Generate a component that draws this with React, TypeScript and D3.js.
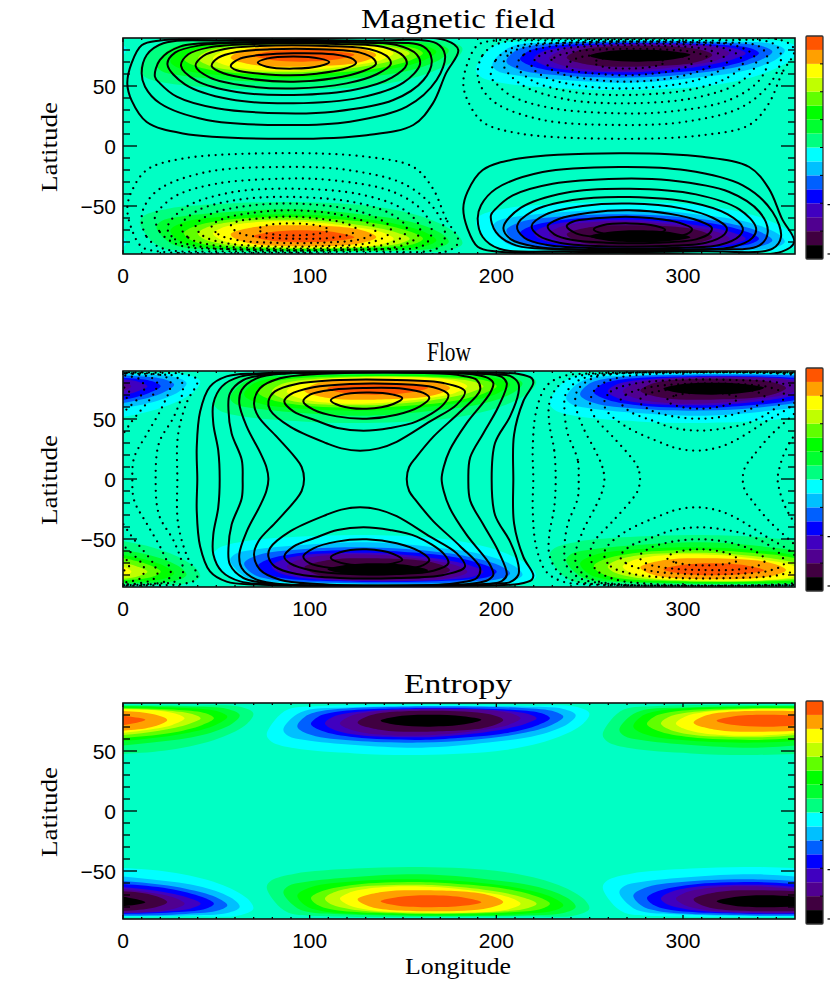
import React from "react";
import * as d3 from "d3";

type Pt = [number, number];

const WIDTH = 830;
const HEIGHT = 997;

const lonMajor = [0, 100, 200, 300];
const lonMinor = [10, 20, 30, 40, 50, 60, 70, 80, 90, 110, 120, 130, 140, 150, 160, 170, 180, 190, 210, 220, 230, 240, 250, 260, 270, 280, 290, 310, 320, 330, 340, 350];
const latMajor = [-50, 0, 50];
const latMinor = [-80, -70, -60, -40, -30, -20, -10, 10, 20, 30, 40, 60, 70, 80];

// colour bar, bottom to top
const barColours = ["#000000", "#400040", "#500090", "#4000c0", "#0000ff", "#0060ff", "#00c0ff", "#00ffff", "#00ff80", "#00ff30", "#00ff00", "#60ff00", "#c0ff00", "#ffff00", "#ffa000", "#ff5500"];
const barTicks = [2, 4, 6, 8, 10, 12, 14];
const barLabelStubs = [0.36, 3.9];
const backgroundColour = "#00ffc4";

// outer to inner
const coldColours = ["#00ffff", "#00c0ff", "#0060ff", "#0000ff", "#4000c0", "#500090", "#400040", "#000000"];
const warmColours = ["#00ff80", "#00ff30", "#00ff00", "#60ff00", "#c0ff00", "#ffff00", "#ffa000", "#ff5500"];

// filled lobe outlines: [longitude relative to lobe centre, latitude], outer to inner
const lobeRings: Pt[][] = [
  [[-88, 63.3], [-83.6, 75.8], [-76.4, 84.7], [-58.6, 87.5], [-5, 88.3], [48.6, 87.8], [77, 87], [84.8, 81.4], [81.6, 73], [66.4, 60.6], [39.6, 50.8], [-5, 46.7], [-40.7, 48], [-72.9, 52.2], [-85.4, 57.8]],
  [[-79.1, 67.5], [-74.7, 77.2], [-67.5, 83.6], [-40.7, 86.4], [-1.4, 87.5], [48.6, 87], [70.9, 85], [77.5, 80], [73.6, 73], [57.5, 63.3], [30.7, 57], [-5, 52.8], [-40.7, 55], [-67.5, 59.2], [-76.4, 62.5]],
  [[-71.6, 70.3], [-67.5, 78.6], [-58.6, 83.3], [-5, 87], [48.6, 85.8], [66.4, 82.8], [70.9, 78.6], [64.6, 71.7], [48.6, 64.7], [21.8, 59.2], [-5, 57], [-40.7, 58.6], [-64, 63.3]],
  [[-64.3, 72.5], [-60.4, 78.6], [-51.4, 82.5], [-5, 85.8], [45, 84.2], [59.3, 81.4], [63.7, 77.2], [57.5, 71.7], [39.6, 64.7], [12.8, 60.6], [-8.6, 59.2], [-40.7, 61.4], [-58.6, 66.9]],
  [[-56.8, 73], [-53.2, 78], [-42.5, 82], [-5, 85.3], [39.6, 83.6], [52.1, 80.8], [56.6, 77.2], [50.3, 72.5], [34.3, 66.9], [9.3, 62.5], [-8.6, 61.4], [-39, 63.3], [-52.3, 68]],
  [[-48.8, 73], [-44, 78.6], [-33, 82.5], [-1.4, 84.7], [34.3, 83.6], [45, 80.3], [48, 77.2], [41.4, 71.7], [25.3, 67], [2, 63.3], [-17.5, 62.8], [-37, 65.5], [-45, 68.9]],
  [[-39.3, 73.6], [-32, 80], [-1.4, 83.6], [30.7, 80.8], [38.7, 75.8], [30, 69.7], [-2, 66.1], [-26.4, 67.5]],
  [[-27, 75.3], [-17.5, 79], [0, 80.2], [17, 79], [27, 76], [18, 72.2], [-0.5, 70.3], [-17.5, 71.7]],
];

// lobe centres, [longitude, north = 1 / south = -1, cold = 0 / warm = 1]
const magneticLobes = [[277, 1, 0], [97, 1, 1], [97, -1, 1], [277, -1, 0]];
const flowLobes = [[316.5, 1, 0], [136.5, 1, 1], [316.5, -1, 1], [136.5, -1, 0]];
const entropyLobes = [[165, 1, 0], [345, 1, 1], [165, -1, 1], [345, -1, 0]];

// magnetic field contours of the north-west cell, outer to inner
const magneticRings: Pt[][] = [
  [[179.6, 80], [173, 60.5], [166, 35.5], [155.5, 17.5], [130.5, 9], [86, 6], [32, 10.5], [12.7, 20], [4.6, 38], [2.3, 52], [4.6, 69], [10, 84], [20, 88], [86, 89], [173, 88]],
  [[10, 60.6], [12.7, 75.8], [21.6, 85.6], [59, 87.8], [130.5, 87.8], [168, 85.6], [172.5, 75.8], [168, 55], [152, 32.8], [121.6, 20.3], [85.9, 17.5], [44.8, 21.7], [19.8, 35.6], [11.8, 49.4]],
  [[17.1, 57.8], [19.8, 71.7], [30.5, 82.8], [59, 86], [130.5, 86], [161, 82.8], [165.4, 71.7], [161, 55], [144.8, 38.3], [112.7, 28.6], [85.9, 27.2], [50.2, 31.4], [28.8, 41.1], [19.8, 52.2]],
  [[23.8, 68.1], [27.9, 77.8], [41.3, 83.9], [69.8, 86.7], [119.8, 86.7], [146.6, 84.2], [157.3, 76.4], [159.1, 68.1], [150.2, 52.8], [127, 40.3], [91.3, 35.6], [57.3, 38.9], [33.2, 51.4]],
  [[31.1, 66.7], [35, 76.4], [46.6, 82.3], [69.8, 85], [114.5, 85], [139.5, 82.5], [150.2, 75], [152, 68.1], [144, 57], [125.2, 47.3], [91.3, 42.5], [60.9, 45], [39.5, 54.2]],
  [[38.9, 66.7], [43, 75], [53.8, 80.6], [73.4, 83.4], [109.1, 83.4], [132.3, 80.6], [142.2, 73.6], [143.4, 68.1], [135.9, 59.8], [119.8, 52.2], [91.3, 48], [66.3, 50], [46.6, 57]],
  [[47.5, 66.7], [51.1, 73.6], [60.9, 78.4], [78.8, 80.6], [105.5, 80.6], [127, 77.8], [134.5, 72.3], [135.4, 68.1], [128.8, 62.5], [112.7, 56.4], [91.3, 53.6], [69.8, 55.6], [53.8, 60.6]],
  [[57.7, 66.7], [62.7, 72.8], [75.2, 76.1], [91.3, 77.3], [112.7, 76.4], [123.4, 72.3], [124.8, 68.9], [118, 63.9], [103.8, 60.3], [89.5, 58.9], [73.4, 60.3], [60.9, 63.1]],
  [[72.2, 69.5], [77, 72.8], [91.3, 74.5], [105.5, 72.8], [110.5, 70], [105.5, 66.7], [91.3, 64.5], [77, 66.1]],
];

// flow contours that wrap both cells: north half, west equator round to east equator
const flowWaistRings: Pt[][] = [
  [[39.8, 0], [39.5, 26], [41.3, 56], [46.6, 77], [55.5, 85.5], [71.6, 88], [130, 89], [200, 88.5], [212, 87.5], [219, 84], [219.8, 80], [214.5, 65], [209.5, 37], [209.1, 0]],
  [[51.8, 0], [51, 24], [48.4, 46], [48.4, 63], [52.9, 77], [62.7, 85.3], [95, 88.5], [170, 88.5], [200, 87], [207.3, 85.9], [211.8, 79.8], [211.8, 71.4], [207.3, 52], [199.3, 30], [197.5, 0]],
  [[64.1, 0], [63.6, 16], [58.2, 38], [56.5, 57.5], [57.3, 71.4], [64.5, 82.5], [80.6, 87.5], [120, 89], [180, 88.5], [196.6, 87.5], [203, 85], [205.6, 79.8], [201, 60], [193, 38], [186, 18], [185, 0]],
  [[77.9, 0], [76.8, 10], [73.5, 22], [66.3, 43.6], [62.3, 63], [63.6, 74.2], [71.6, 83.9], [87.7, 88], [130, 89], [175, 88.5], [189.5, 86.7], [195.7, 84], [198.4, 79.8], [196.6, 71.4], [184, 46.4], [175, 24], [171.8, 10], [170.7, 0]],
  [[97, 0], [95.7, 10], [92.2, 18], [82.3, 35.3], [72.5, 52], [70.2, 63], [73.4, 75.6], [84.1, 83.9], [104, 87.5], [140, 88.8], [175, 87.5], [182.3, 85.9], [189.5, 82.5], [191.3, 74.2], [180.6, 56], [166.3, 35.3], [157, 18], [153.3, 10], [152, 0]],
];

// flow contours closed inside the north cell
const flowCellRings: Pt[][] = [
  [[77.9, 64.7], [81.4, 73], [93, 79.2], [116.3, 82.5], [146.6, 82.5], [171.6, 80], [183.2, 73], [178.8, 62], [164.5, 48], [146.6, 31], [137, 25.5], [127, 23.6], [117, 25.5], [109, 29.8], [89.5, 43.6], [78.8, 57.5]],
  [[86.4, 64.7], [89.5, 70.3], [102, 76.4], [121.6, 79.2], [146.6, 79.2], [166.3, 76.4], [174.3, 70.3], [171.6, 62], [157.3, 48], [143, 42.5], [128.8, 40.3], [115, 42.5], [103, 49], [91.3, 56.4]],
  [[96.6, 64.7], [100.2, 70.3], [112.7, 74.4], [128.8, 75.8], [150.2, 75.3], [160.9, 71.7], [164.1, 67.5], [159.1, 60.6], [146.6, 53.6], [130.5, 50.3], [114.5, 52.2], [102, 57.8]],
  [[111.3, 65.6], [116.3, 69.7], [130.5, 72], [144.8, 70.3], [149.6, 67.5], [144.8, 62.5], [130.5, 58.6], [116.3, 61.1]],
];

const mirror = (ring: Pt[]): Pt[] => ring.map(([lon, lat]) => [lon, -lat] as Pt);
const shift = (ring: Pt[], dLon: number): Pt[] => ring.map(([lon, lat]) => [lon + dLon, lat] as Pt);
const closeWaist = (half: Pt[]): Pt[] => [...half, ...mirror(half).reverse().slice(1, -1)];

const magneticContours = [
  ...magneticRings.map((ring) => ({ ring, dotted: false })),
  ...magneticRings.map((ring) => ({ ring: mirror(ring), dotted: true })),
  ...magneticRings.map((ring) => ({ ring: shift(ring, 180), dotted: true })),
  ...magneticRings.map((ring) => ({ ring: shift(mirror(ring), 180), dotted: false })),
];

const flowClosed = [...flowWaistRings.map(closeWaist), ...flowCellRings, ...flowCellRings.map(mirror)];
const flowContours = [
  ...flowClosed.map((ring) => ({ ring, dotted: false })),
  ...flowClosed.map((ring) => ({ ring: shift(ring, 180), dotted: true })),
  ...flowClosed.map((ring) => ({ ring: shift(ring, -180), dotted: true })),
];

const panels = [
  { id: "mag", title: "Magnetic field", titleX: 458, titleW: 194, top: 38, barTop: 36, lobes: magneticLobes, contours: magneticContours },
  { id: "flow", title: "Flow", titleX: 449, titleW: 44, top: 371, barTop: 368, lobes: flowLobes, contours: flowContours },
  { id: "ent", title: "Entropy", titleX: 458, titleW: 108, top: 703, barTop: 701, lobes: entropyLobes, contours: [] as { ring: Pt[]; dotted: boolean }[] },
];

const xScale = d3.scaleLinear().domain([0, 360]).range([123, 795]);
const PLOT_H = 216;
const BAR_H = 223;
const serif = "'Liberation Serif', 'DejaVu Serif', serif";
const sans = "'Liberation Sans', Arial, sans-serif";

function Panel({ panel }: { panel: (typeof panels)[number] }) {
  const y = d3.scaleLinear().domain([-90, 90]).range([panel.top + PLOT_H, panel.top]);
  const barY = d3.scaleLinear().domain([0, 16]).range([panel.barTop + BAR_H, panel.barTop]);
  const ringPath = d3
    .line<Pt>()
    .x((d) => xScale(d[0]))
    .y((d) => y(d[1]))
    .curve(d3.curveCatmullRomClosed);
  const left = xScale(0);
  const right = xScale(360);

  return (
    <g>
      <clipPath id={`clip-${panel.id}`}>
        <rect x={left} y={panel.top} width={right - left} height={PLOT_H} />
      </clipPath>
      <text
        x={panel.titleX}
        y={panel.top - 10}
        textAnchor="middle"
        fontFamily={serif}
        fontSize={27}
        textLength={panel.titleW}
        lengthAdjust="spacingAndGlyphs"
      >
        {panel.title}
      </text>

      <g clipPath={`url(#clip-${panel.id})`}>
        <rect x={left} y={panel.top} width={right - left} height={PLOT_H} fill={backgroundColour} />
        {panel.lobes.map(([lon, side, warm], i) =>
          [-360, 0, 360].map((wrap) =>
            lobeRings.map((ring, level) => (
              <path
                key={`${i}-${wrap}-${level}`}
                d={ringPath(ring.map(([dLon, lat]) => [lon + dLon + wrap, lat * side] as Pt)) ?? ""}
                fill={warm ? warmColours[level] : coldColours[level]}
              />
            ))
          )
        )}
        {panel.contours.map((c, i) => (
          <path
            key={i}
            d={ringPath(c.ring) ?? ""}
            fill="none"
            stroke="#000"
            strokeWidth={c.dotted ? 2.3 : 2}
            strokeLinecap="round"
            strokeDasharray={c.dotted ? "0 6.7" : undefined}
          />
        ))}
      </g>

      {/* ticks point inward on all four sides */}
      <g stroke="#000" strokeWidth={1.3}>
        {lonMajor.map((t) => (
          <g key={t}>
            <line x1={xScale(t)} x2={xScale(t)} y1={y(-90)} y2={y(-90) - 4} />
            <line x1={xScale(t)} x2={xScale(t)} y1={y(90)} y2={y(90) + 4} />
          </g>
        ))}
        {lonMinor.map((t) => (
          <g key={t}>
            <line x1={xScale(t)} x2={xScale(t)} y1={y(-90)} y2={y(-90) - 2} />
            <line x1={xScale(t)} x2={xScale(t)} y1={y(90)} y2={y(90) + 2} />
          </g>
        ))}
        {latMajor.map((t) => (
          <g key={t}>
            <line x1={left} x2={left + 14} y1={y(t)} y2={y(t)} />
            <line x1={right} x2={right - 14} y1={y(t)} y2={y(t)} />
          </g>
        ))}
        {latMinor.map((t) => (
          <g key={t}>
            <line x1={left} x2={left + 7} y1={y(t)} y2={y(t)} />
            <line x1={right} x2={right - 7} y1={y(t)} y2={y(t)} />
          </g>
        ))}
      </g>
      <rect x={left} y={panel.top} width={right - left} height={PLOT_H} fill="none" stroke="#111" strokeWidth={1.6} />

      {lonMajor.map((t) => (
        <text key={t} x={xScale(t)} y={y(-90) + 29} textAnchor="middle" fontFamily={sans} fontSize={21}>
          {t}
        </text>
      ))}
      {latMajor.map((t) => (
        <text key={t} x={116} y={y(t) + 8} textAnchor="end" fontFamily={sans} fontSize={21}>
          {t < 0 ? `\u2212${-t}` : t}
        </text>
      ))}
      <text
        transform={`translate(57,${y(0) + 1}) rotate(-90)`}
        textAnchor="middle"
        fontFamily={serif}
        fontSize={23}
        textLength={90}
        lengthAdjust="spacingAndGlyphs"
      >
        Latitude
      </text>

      {/* colour bar */}
      {barColours.map((c, i) => (
        <rect key={c} x={806} y={barY(i + 1)} width={17} height={barY(i) - barY(i + 1)} fill={c} />
      ))}
      <rect x={806} y={panel.barTop} width={17} height={BAR_H} fill="none" stroke="#333" strokeWidth={1.3} rx={1} />
      {barTicks.map((t) => (
        <line key={t} x1={820} x2={823} y1={barY(t)} y2={barY(t)} stroke="#000" strokeWidth={1} />
      ))}
      {/* the bar's own labels run off the page, only their minus signs show */}
      {barLabelStubs.map((t) => (
        <line key={t} x1={827.5} x2={830} y1={barY(t)} y2={barY(t)} stroke="#000" strokeWidth={1.2} />
      ))}
    </g>
  );
}

export default function App() {
  return (
    <svg
      width={WIDTH}
      height={HEIGHT}
      viewBox={`0 0 ${WIDTH} ${HEIGHT}`}
      style={{ position: "absolute", left: 0, top: 0, background: "#fff" }}
    >
      {panels.map((p) => (
        <Panel key={p.id} panel={p} />
      ))}
      <text
        x={458}
        y={974}
        textAnchor="middle"
        fontFamily={serif}
        fontSize={23}
        textLength={106}
        lengthAdjust="spacingAndGlyphs"
      >
        Longitude
      </text>
    </svg>
  );
}
